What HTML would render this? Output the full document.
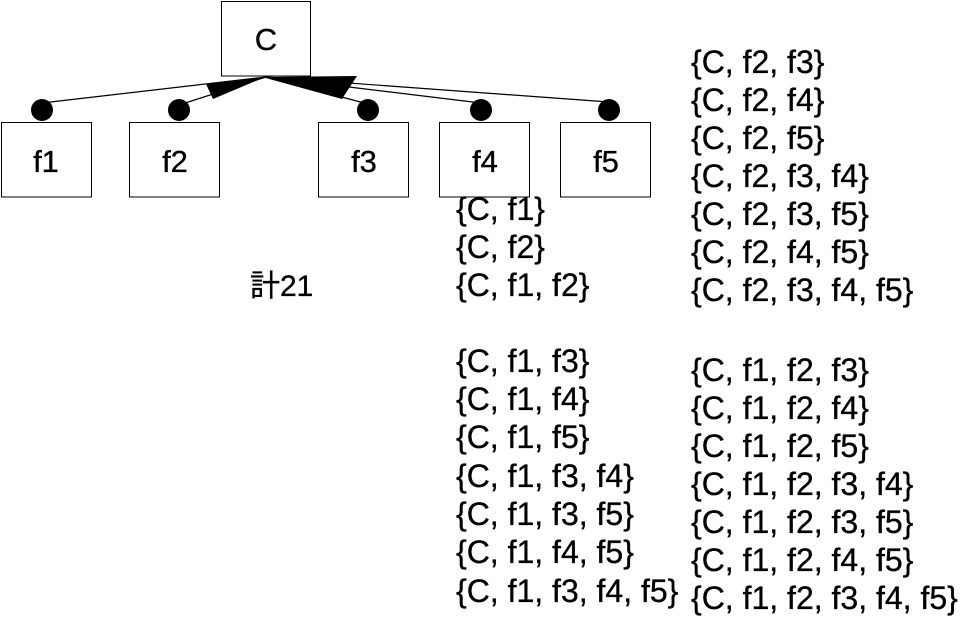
<!DOCTYPE html>
<html>
<head>
<meta charset="utf-8">
<style>
  html, body { margin: 0; padding: 0; background: #fff; }
  body { width: 969px; height: 621px; overflow: hidden; }
  svg { display: block; }
  text { font-family: "Liberation Sans", "Noto Sans CJK JP", sans-serif; fill: #000; stroke: #000; stroke-width: 0.35; }
</style>
</head>
<body>
<svg width="969" height="621" viewBox="0 0 969 621" xmlns="http://www.w3.org/2000/svg">
  <rect x="0" y="0" width="969" height="621" fill="#fff"/>

  <!-- connector lines -->
  <g stroke="#000" stroke-width="1.2" fill="none">
    <line x1="42" y1="103" x2="266" y2="77"/>
    <line x1="179" y1="105" x2="266" y2="77"/>
    <line x1="368" y1="104" x2="266" y2="77"/>
    <line x1="481" y1="103" x2="266" y2="77"/>
    <line x1="609" y1="102" x2="266" y2="77"/>
  </g>

  <!-- boxes -->
  <g stroke="#000" stroke-width="1" fill="#fff">
    <rect x="221.5" y="1.5" width="89" height="74.5"/>
    <rect x="1.5" y="122.5" width="90" height="74.5"/>
    <rect x="129.5" y="122.5" width="90" height="74.5"/>
    <rect x="318.5" y="122.5" width="90" height="74.5"/>
    <rect x="439.5" y="122.5" width="90" height="74.5"/>
    <rect x="560.5" y="122.5" width="90" height="74.5"/>
  </g>

  <!-- arrowheads -->
  <polygon points="265,77 206,84 213,99" fill="#000"/>
  <polygon points="262,77 357,76 342,99" fill="#000"/>

  <!-- dots -->
  <g fill="#000">
    <circle cx="42" cy="110" r="11"/>
    <circle cx="179" cy="110" r="11"/>
    <circle cx="368" cy="110" r="11"/>
    <circle cx="481" cy="110" r="11"/>
    <circle cx="609" cy="110" r="11"/>
  </g>

  <!-- box labels -->
  <g font-size="31" text-anchor="middle">
    <text x="266" y="50">C</text>
    <text x="46" y="172">f1</text>
    <text x="175" y="172">f2</text>
    <text x="364" y="172">f3</text>
    <text x="485" y="172">f4</text>
    <text x="606" y="172">f5</text>
  </g>

  <text x="250" y="296" font-size="30">計21</text>

  <!-- left column -->
  <g font-size="32">
    <text x="456" y="220">{C, f1}</text>
    <text x="456" y="258">{C, f2}</text>
    <text x="456" y="296">{C, f1, f2}</text>

    <text x="456" y="372">{C, f1, f3}</text>
    <text x="456" y="410">{C, f1, f4}</text>
    <text x="456" y="448">{C, f1, f5}</text>
    <text x="456" y="487">{C, f1, f3, f4}</text>
    <text x="456" y="525">{C, f1, f3, f5}</text>
    <text x="456" y="563">{C, f1, f4, f5}</text>
    <text x="456" y="602">{C, f1, f3, f4, f5}</text>
  </g>

  <!-- right column -->
  <g font-size="32">
    <text x="691" y="73">{C, f2, f3}</text>
    <text x="691" y="111">{C, f2, f4}</text>
    <text x="691" y="149">{C, f2, f5}</text>
    <text x="691" y="187">{C, f2, f3, f4}</text>
    <text x="691" y="225">{C, f2, f3, f5}</text>
    <text x="691" y="263">{C, f2, f4, f5}</text>
    <text x="691" y="301">{C, f2, f3, f4, f5}</text>

    <text x="691" y="381">{C, f1, f2, f3}</text>
    <text x="691" y="419">{C, f1, f2, f4}</text>
    <text x="691" y="457">{C, f1, f2, f5}</text>
    <text x="691" y="495">{C, f1, f2, f3, f4}</text>
    <text x="691" y="533">{C, f1, f2, f3, f5}</text>
    <text x="691" y="571">{C, f1, f2, f4, f5}</text>
    <text x="691" y="609">{C, f1, f2, f3, f4, f5}</text>
  </g>
</svg>
</body>
</html>
